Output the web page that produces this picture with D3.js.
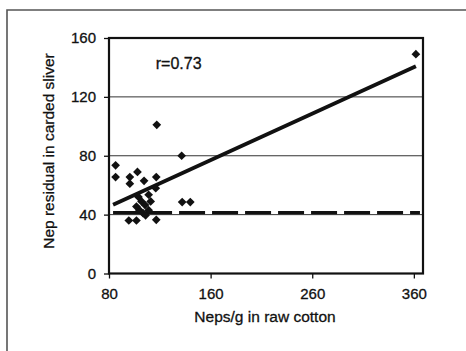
<!DOCTYPE html>
<head>
  <meta charset="utf-8">
  <script src="https://d3js.org/d3.v7.min.js"></script>
  <style>
    body { margin: 0; background: #fff; }
    svg { width: 466px; height: 351px; display: block; }
    text { font-family: "Liberation Sans", Arial, sans-serif; fill: #111; stroke: #111; stroke-width: 0.3px; }
  </style>
</head>

<body>
  <svg></svg>

  <script>
    // neps/g in raw cotton vs nep residual in carded sliver
    const nepsRaw = [86.5, 86.5, 100.5, 100.5, 108, 114.5, 126.5, 126, 127, 151.5, 152, 160,
                     99.5, 107, 126.5, 109, 119, 112, 115.5, 110, 113.5, 119, 107, 116, 121, 382];
    const nepsSliver = [73.5, 65.5, 65.5, 61, 69, 63, 65.5, 58, 101, 80, 48.5, 48.5,
                        36, 36, 36.5, 52, 53.5, 49, 46.5, 43, 41, 43, 45.5, 39.5, 49, 149];

    // regression line y = a + b*x, drawn over the data range
    const fitIntercept = 20.1;
    const fitSlope = 0.316;
    const fitRange = [84, 382];
    const refLevel = 41.3;   // dashed reference line
    const refRange = [84, 386];

    const yTicks = [0, 40, 80, 120, 160];
    const xTicks = [80, 180, 280, 380];
    const xTickLabels = ['80', '160', '260', '360'];

    const svg = d3.select('svg');
    const m = { left: 109, top: 38, right: 423, bottom: 273.5 };

    const x = d3.scaleLinear().domain([80, 389]).range([m.left, m.right]);
    const y = d3.scaleLinear().domain([0, 160]).range([m.bottom, m.top]);

    // outer chart frame (top and left edges only visible)
    svg.append('path')
      .attr('d', 'M7,351V10H466')
      .attr('fill', 'none')
      .attr('stroke', '#555')
      .attr('stroke-width', 1.6);

    // gridlines
    svg.selectAll('.grid')
      .data(yTicks.filter(d => d > 0 && d < 160)).enter().append('line')
      .attr('x1', m.left).attr('x2', m.right)
      .attr('y1', d => y(d)).attr('y2', d => y(d))
      .attr('stroke', '#333')
      .attr('stroke-width', 1);

    // axes
    const yAxis = svg.append('g')
      .attr('transform', `translate(${m.left},0)`)
      .call(d3.axisLeft(y).tickValues(yTicks).tickSize(5).tickPadding(8));
    const xAxis = svg.append('g')
      .attr('transform', `translate(0,${m.bottom})`)
      .call(d3.axisBottom(x).tickValues(xTicks).tickSize(5).tickPadding(10)
        .tickFormat((d, i) => xTickLabels[i]));
    [xAxis, yAxis].forEach(g => {
      g.select('.domain').remove();
      g.selectAll('line').attr('stroke', '#111').attr('stroke-width', 1.3);
      g.selectAll('text')
        .style('font-family', '"Liberation Sans", Arial, sans-serif')
        .style('font-size', '15px')
        .attr('fill', '#111');
    });

    // plot border
    svg.append('rect')
      .attr('x', m.left).attr('y', m.top)
      .attr('width', m.right - m.left).attr('height', m.bottom - m.top)
      .attr('fill', 'none')
      .attr('stroke', '#111')
      .attr('stroke-width', 2.2);

    // dashed reference line
    svg.append('line')
      .attr('x1', x(refRange[0])).attr('x2', x(refRange[1]))
      .attr('y1', y(refLevel)).attr('y2', y(refLevel))
      .attr('stroke', '#111')
      .attr('stroke-width', 3.2)
      .attr('stroke-dasharray', '26,7');

    // regression line
    svg.append('line')
      .attr('x1', x(fitRange[0])).attr('y1', y(fitIntercept + fitSlope * fitRange[0]))
      .attr('x2', x(fitRange[1])).attr('y2', y(fitIntercept + fitSlope * fitRange[1]))
      .attr('stroke', '#111')
      .attr('stroke-width', 3.8);

    // diamond markers
    const diamond = d3.symbol().type(d3.symbolSquare).size(38);
    svg.selectAll('.pt')
      .data(nepsRaw.map((v, i) => [v, nepsSliver[i]])).enter().append('path')
      .attr('d', diamond)
      .attr('transform', d => `translate(${x(d[0])},${y(d[1])})rotate(45)`)
      .attr('fill', '#111');

    svg.append('text')
      .attr('x', x(126)).attr('y', 69)
      .style('font-size', '16px')
      .text('r=0.73');

    // axis titles
    svg.append('text')
      .attr('x', 265).attr('y', 322)
      .attr('text-anchor', 'middle')
      .style('font-size', '15.5px')
      .text('Neps/g in raw cotton');

    svg.append('text')
      .attr('transform', 'translate(54,151)rotate(-90)')
      .attr('text-anchor', 'middle')
      .style('font-size', '15.5px')
      .text('Nep residual in carded sliver');
  </script>
</body>
